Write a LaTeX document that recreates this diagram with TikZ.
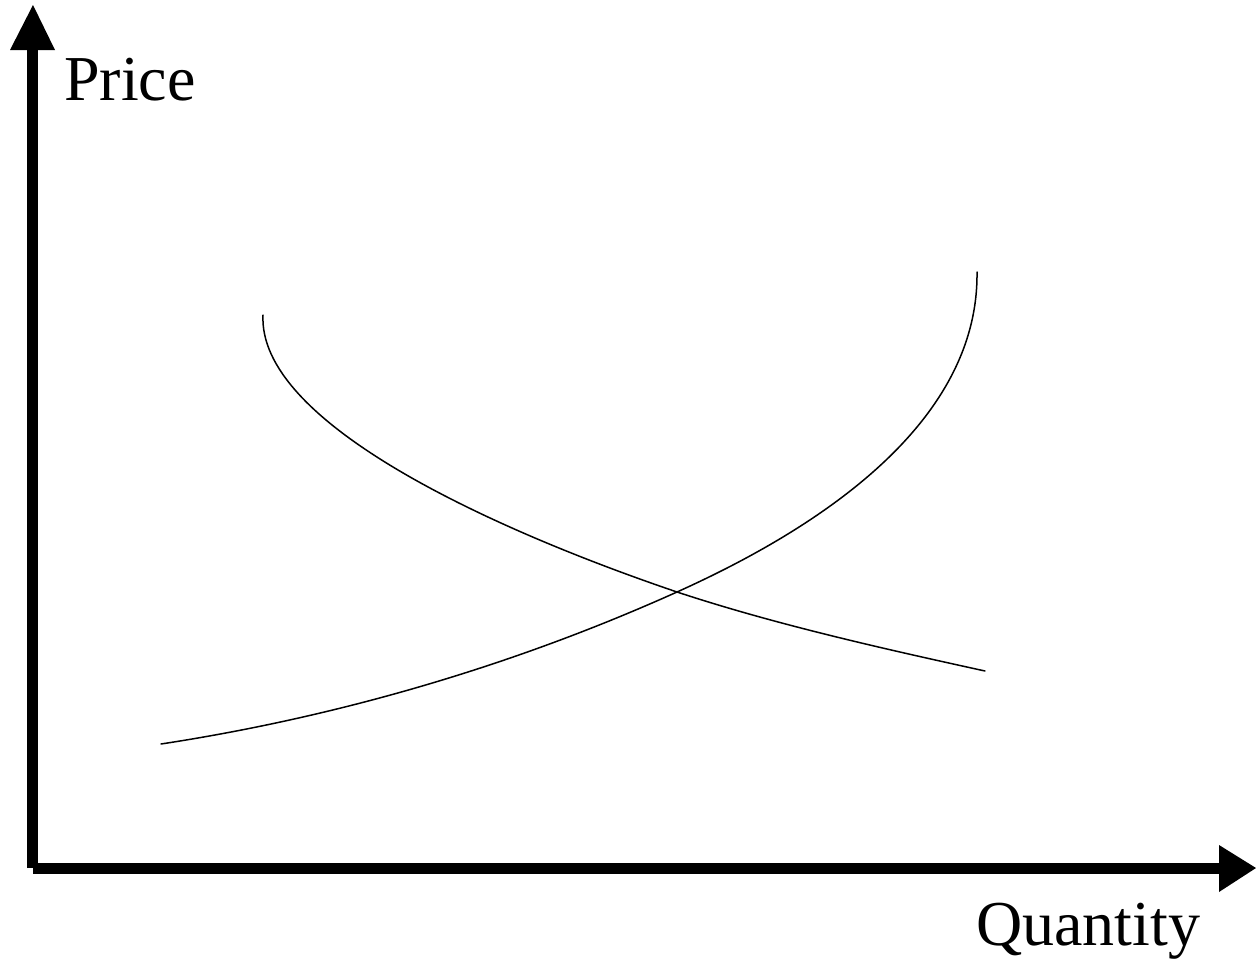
\documentclass[tikz,border=0pt]{standalone}
\usepackage{fontspec}
\setmainfont{Liberation Serif}
\begin{document}
\begin{tikzpicture}[x=1pt,y=-1pt,
  axis/.style={line width=11pt,line cap=butt},
  head/.style={fill=black,draw=none},
  curve/.style={line width=1.5pt,line cap=round},
  lbl/.style={font=\fontsize{64}{64}\selectfont,inner sep=0pt,anchor=base west}]
\useasboundingbox (0,0) rectangle (1256,961);
\coordinate (O) at (32.5,868);
\coordinate (ytop) at (32.5,50);
\coordinate (xend) at (1219,868);
\draw[axis] (32.5,868) -- (ytop);
\draw[axis] (O) -- (xend);
\fill[head] (10,50) -- (33,5) -- (55,50) -- cycle;
\fill[head] (1219,845) -- (1256,868) -- (1219,892) -- cycle;
\node[lbl] (price) at (64,100) {Price};
\node[lbl] (qty) at (976,945) {Quantity};
\coordinate (E) at (677,592);
\coordinate (d0) at (263,315);
\coordinate (d1) at (985,671);
\coordinate (s0) at (161,744);
\coordinate (s1) at (977,272);
\draw[curve] (d0) .. controls (258,420) and (480,525) .. (E)
  .. controls (777,625) and (885,649) .. (d1);
\draw[curve] (s0) .. controls (331,718) and (507,668.5) .. (E)
  .. controls (800,536.6) and (979,432) .. (s1);
\end{tikzpicture}
\end{document}
